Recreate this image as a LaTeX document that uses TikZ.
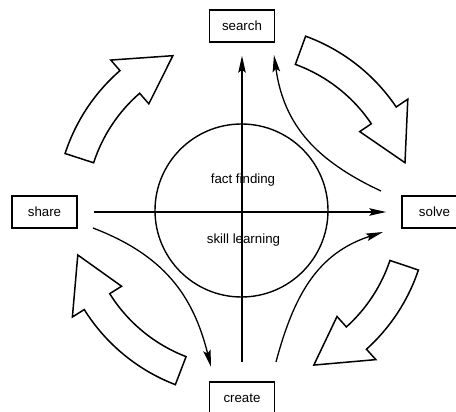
\documentclass[tikz,border=0pt]{standalone}
\usepackage{fontspec}
\setmainfont{Liberation Sans}
\usetikzlibrary{arrows.meta}
\newcommand{\blockarr}[3]{%
  \draw[blockarrow] (#1:186pt) arc[start angle=#1, end angle=#2, radius=186pt]
    -- (#2:200pt) -- (#3:170pt) -- (#2:142pt) -- (#2:156pt)
    arc[start angle=#2, end angle=#1, radius=156pt] -- cycle;}
\begin{document}
\begin{tikzpicture}[x=1pt,y=1pt,
  every node/.style={font=\fontsize{13.3}{16}\selectfont},
  box/.style={draw, line width=1.5pt, minimum width=65pt, minimum height=32pt, inner sep=0pt},
  conn/.style={line width=1.3pt, -{Stealth[length=17pt,width=7.5pt,inset=3pt]}},
  blockarrow/.style={draw, line width=1.5pt, fill=white, line join=miter},
  ring/.style={draw, line width=1.4pt}]
\useasboundingbox (0,0) rectangle (456,412);
\fill[white] (0,0) rectangle (456,412);

\node[box] (search) at (242,386) {search};
\node[box] (share) at (44.5,200) {share};
\node[box] (solve) at (434.5,200) {solve};
\node[box] (create) at (242,14) {create};

\node[ring, circle, minimum size=173pt, inner sep=0pt] (core) at (241.5,201.5) {};
\node (fact) at (243,232) {fact finding};
\node (skill) at (243.5,172) {skill learning};

\draw[conn, shorten <=19pt, shorten >=13pt] (create.north) -- (search.south);
\draw[conn, shorten <=16pt, shorten >=15pt] (share.east) -- (solve.west);

\coordinate (trs) at (381,221);
\coordinate (tre) at (274,357);
\coordinate (brs) at (276,50);
\coordinate (bre) at (383,180);
\coordinate (bls) at (93,184);
\coordinate (ble) at (211,45);

\draw[conn] (trs) to[out=155, in=-82, looseness=1.05] (tre);
\draw[conn] (brs) to[out=75, in=198, looseness=1.05] (bre);
\draw[conn] (bls) to[out=-21, in=104, looseness=1.05] (ble);

\begin{scope}[shift={(242,201)}]
  \blockarr{162}{131}{114}
  \blockarr{70}{34}{16.5}
  \blockarr{-18.5}{-48}{-65}
  \blockarr{249}{212}{195}
\end{scope}
\end{tikzpicture}
\end{document}
